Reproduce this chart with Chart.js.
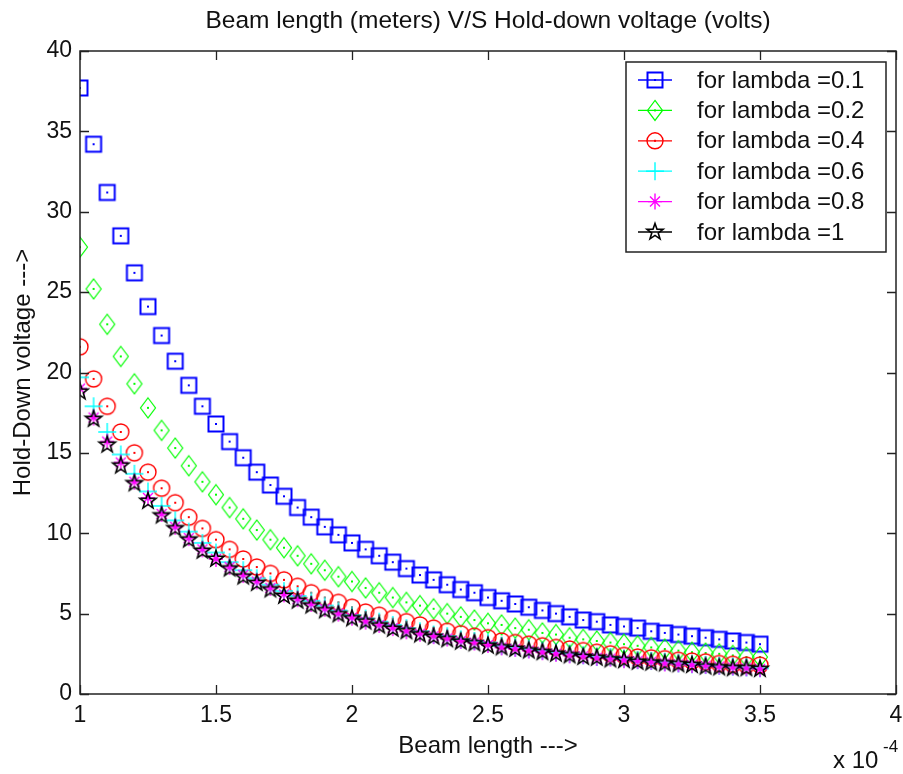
<!DOCTYPE html>
<html>
<head>
<meta charset="utf-8">
<script src="https://cdn.jsdelivr.net/npm/chart.js@4/dist/chart.umd.min.js"></script>
<style>
  html, body { margin: 0; padding: 0; background: #fff; }
  #wrap { width: 903px; height: 774px; }
</style>
</head>
<body>
<div id="wrap"><canvas id="chart" width="903" height="774"></canvas></div>
<script>
// beam length (x 10^-4 m)
const beamLength = [1.00, 1.05, 1.10, 1.15, 1.20, 1.25, 1.30, 1.35, 1.40, 1.45,
  1.50, 1.55, 1.60, 1.65, 1.70, 1.75, 1.80, 1.85, 1.90, 1.95,
  2.00, 2.05, 2.10, 2.15, 2.20, 2.25, 2.30, 2.35, 2.40, 2.45,
  2.50, 2.55, 2.60, 2.65, 2.70, 2.75, 2.80, 2.85, 2.90, 2.95,
  3.00, 3.05, 3.10, 3.15, 3.20, 3.25, 3.30, 3.35, 3.40, 3.45, 3.50];

// hold-down voltage per lambda
const lambda01 = [37.7, 34.2, 31.2, 28.5, 26.2, 24.1, 22.3, 20.7, 19.2, 17.9,
  16.8, 15.7, 14.7, 13.8, 13.0, 12.3, 11.6, 11.0, 10.4, 9.9,
  9.4, 9.0, 8.6, 8.2, 7.8, 7.4, 7.1, 6.8, 6.5, 6.3,
  6.0, 5.8, 5.6, 5.4, 5.2, 5.0, 4.8, 4.6, 4.5, 4.3,
  4.2, 4.1, 3.9, 3.8, 3.7, 3.6, 3.5, 3.4, 3.3, 3.2, 3.1];
const lambda02 = [27.8, 25.2, 23.0, 21.0, 19.3, 17.8, 16.4, 15.3, 14.2, 13.2,
  12.4, 11.6, 10.9, 10.2, 9.6, 9.1, 8.6, 8.1, 7.7, 7.3,
  7.0, 6.6, 6.3, 6.0, 5.7, 5.5, 5.3, 5.0, 4.8, 4.6,
  4.4, 4.3, 4.1, 4.0, 3.8, 3.7, 3.5, 3.4, 3.3, 3.2,
  3.1, 3.0, 2.9, 2.8, 2.7, 2.6, 2.55, 2.5, 2.4, 2.3, 2.3];
const lambda04 = [21.6, 19.6, 17.9, 16.3, 15.0, 13.8, 12.8, 11.9, 11.0, 10.3,
  9.6, 9.0, 8.4, 7.9, 7.5, 7.1, 6.7, 6.3, 6.0, 5.7,
  5.4, 5.1, 4.9, 4.7, 4.5, 4.3, 4.1, 3.9, 3.75, 3.6,
  3.5, 3.3, 3.2, 3.1, 3.0, 2.9, 2.8, 2.7, 2.6, 2.5,
  2.4, 2.3, 2.25, 2.2, 2.1, 2.05, 2.0, 1.9, 1.85, 1.8, 1.8];
const lambda06 = [19.7, 17.9, 16.3, 14.9, 13.7, 12.6, 11.7, 10.8, 10.1, 9.4,
  8.8, 8.2, 7.7, 7.2, 6.8, 6.4, 6.1, 5.8, 5.5, 5.2,
  4.9, 4.7, 4.5, 4.3, 4.1, 3.9, 3.7, 3.6, 3.4, 3.3,
  3.2, 3.0, 2.9, 2.8, 2.7, 2.6, 2.5, 2.4, 2.3, 2.3,
  2.2, 2.1, 2.05, 2.0, 1.9, 1.85, 1.8, 1.75, 1.7, 1.65, 1.6];
const lambda08 = [19.0, 17.2, 15.7, 14.4, 13.2, 12.2, 11.2, 10.4, 9.7, 9.0,
  8.4, 7.9, 7.4, 7.0, 6.6, 6.2, 5.9, 5.6, 5.3, 5.0,
  4.75, 4.5, 4.3, 4.1, 3.9, 3.75, 3.6, 3.45, 3.3, 3.2,
  3.05, 2.9, 2.8, 2.7, 2.6, 2.5, 2.4, 2.35, 2.25, 2.2,
  2.1, 2.05, 2.0, 1.9, 1.85, 1.8, 1.75, 1.7, 1.65, 1.6, 1.55];
const lambda10 = [18.8, 17.1, 15.5, 14.2, 13.1, 12.0, 11.1, 10.3, 9.6, 8.9,
  8.4, 7.8, 7.3, 6.9, 6.5, 6.1, 5.8, 5.5, 5.2, 4.95,
  4.7, 4.5, 4.25, 4.05, 3.9, 3.7, 3.55, 3.4, 3.25, 3.15,
  3.0, 2.9, 2.8, 2.7, 2.6, 2.5, 2.4, 2.3, 2.25, 2.15,
  2.1, 2.0, 1.95, 1.9, 1.85, 1.8, 1.7, 1.65, 1.6, 1.6, 1.55];

const seriesNames = ['for lambda =0.1', 'for lambda =0.2', 'for lambda =0.4',
  'for lambda =0.6', 'for lambda =0.8', 'for lambda =1'];
const seriesValues = [lambda01, lambda02, lambda04, lambda06, lambda08, lambda10];
const xTicks = [1, 1.5, 2, 2.5, 3, 3.5, 4];
const yTicks = [0, 5, 10, 15, 20, 25, 30, 35, 40];

const FONT = '"Liberation Sans", Arial, sans-serif';
const colors = ['#0000ff', '#00ff00', '#ff0000', '#00ffff', '#ff00ff', '#000000'];

// marker painters (matlab style: s, d, o, +, *, p with a centre dot)
function dot(ctx, c) { ctx.fillStyle = c; ctx.fillRect(-1, -1, 2, 2); }
const painters = [
  (ctx, c) => { ctx.lineWidth = 2; ctx.strokeRect(-7.5, -7.5, 15, 15); dot(ctx, c); },
  (ctx, c) => {
    ctx.lineWidth = 1.2; ctx.beginPath();
    ctx.moveTo(0, -10); ctx.lineTo(7.5, 0); ctx.lineTo(0, 10); ctx.lineTo(-7.5, 0); ctx.closePath();
    ctx.stroke(); dot(ctx, c);
  },
  (ctx, c) => { ctx.lineWidth = 1.4; ctx.beginPath(); ctx.arc(0, 0, 8, 0, Math.PI * 2); ctx.stroke(); dot(ctx, c); },
  (ctx, c) => {
    ctx.lineWidth = 1.4; ctx.beginPath();
    ctx.moveTo(-9, 0); ctx.lineTo(9, 0); ctx.moveTo(0, -9); ctx.lineTo(0, 9); ctx.stroke();
  },
  (ctx, c) => {
    ctx.lineWidth = 1.4; ctx.beginPath();
    ctx.moveTo(-7, 0); ctx.lineTo(7, 0); ctx.moveTo(0, -8); ctx.lineTo(0, 8);
    ctx.moveTo(-5, -5); ctx.lineTo(5, 5); ctx.moveTo(-5, 5); ctx.lineTo(5, -5);
    ctx.stroke(); dot(ctx, c);
  },
  (ctx, c) => {
    ctx.lineWidth = 1.6; ctx.beginPath();
    for (let k = 0; k < 10; k++) {
      const r = k % 2 ? 3.4 : 8.5;
      const a = -Math.PI / 2 + k * Math.PI / 5;
      const px = r * Math.cos(a), py = r * Math.sin(a);
      if (k === 0) ctx.moveTo(px, py); else ctx.lineTo(px, py);
    }
    ctx.closePath(); ctx.stroke();
  }
];

function makeMarker(i) {
  const cv = document.createElement('canvas');
  cv.width = 24; cv.height = 24;
  const ctx = cv.getContext('2d');
  ctx.translate(12, 12);
  ctx.strokeStyle = colors[i];
  painters[i](ctx, colors[i]);
  return cv;
}
const markers = colors.map((c, i) => makeMarker(i));

// box, inward ticks, titles and legend drawn like a matlab figure
const matlabFrame = {
  id: 'matlabFrame',
  afterDraw(chart) {
    const { ctx, chartArea: a, scales: { x, y } } = chart;
    ctx.save();
    ctx.strokeStyle = '#222';
    ctx.lineWidth = 1.5;
    ctx.strokeRect(a.left, a.top, a.right - a.left, a.bottom - a.top);
    ctx.lineWidth = 1.3;
    ctx.beginPath();
    xTicks.forEach(v => {
      const px = Math.round(x.getPixelForValue(v)) + 0.5;
      ctx.moveTo(px, a.bottom); ctx.lineTo(px, a.bottom - 9);
      ctx.moveTo(px, a.top); ctx.lineTo(px, a.top + 9);
    });
    yTicks.forEach(v => {
      const py = Math.round(y.getPixelForValue(v)) + 0.5;
      ctx.moveTo(a.left, py); ctx.lineTo(a.left + 9, py);
      ctx.moveTo(a.right, py); ctx.lineTo(a.right - 9, py);
    });
    ctx.stroke();

    // texts
    ctx.fillStyle = '#111';
    ctx.font = '24.5px ' + FONT;
    ctx.textAlign = 'center';
    ctx.textBaseline = 'middle';
    const cx = (a.left + a.right) / 2;
    ctx.fillText('Beam length (meters) V/S Hold-down voltage (volts)', cx, 21);
    ctx.font = '24px ' + FONT;
    ctx.fillText('Beam length --->', cx, 746);
    ctx.save();
    ctx.translate(23, (a.top + a.bottom) / 2);
    ctx.rotate(-Math.PI / 2);
    ctx.fillText('Hold-Down voltage --->', 0, 0);
    ctx.restore();
    ctx.textAlign = 'left';
    ctx.fillText('x 10', 833, 761);
    ctx.font = '17px ' + FONT;
    ctx.fillText('-4', 883, 747);

    // legend
    const lw = 260, lh = 190;
    const lx = a.right - 10 - lw, ly = a.top + 11;
    ctx.fillStyle = '#fff';
    ctx.fillRect(lx, ly, lw, lh);
    ctx.strokeStyle = '#222';
    ctx.lineWidth = 1.5;
    ctx.strokeRect(lx, ly, lw, lh);
    ctx.font = '24px ' + FONT;
    ctx.textBaseline = 'middle';
    seriesNames.forEach((name, i) => {
      const ry = ly + 18 + i * 30.4;
      ctx.strokeStyle = colors[i];
      ctx.lineWidth = 1.3;
      ctx.beginPath();
      ctx.moveTo(lx + 12, ry); ctx.lineTo(lx + 46, ry);
      ctx.stroke();
      ctx.save();
      ctx.translate(lx + 29, ry);
      ctx.strokeStyle = colors[i];
      painters[i](ctx, colors[i]);
      ctx.restore();
      ctx.fillStyle = '#111';
      ctx.fillText(name, lx + 71, ry + 1);
    });
    ctx.restore();
  }
};

const datasets = seriesValues.map((vals, i) => ({
  label: seriesNames[i],
  data: beamLength.map((bx, k) => ({ x: bx, y: vals[k] })),
  showLine: false,
  pointStyle: markers[i],
  pointRadius: 9,
  pointHoverRadius: 9,
  order: seriesValues.length - i
}));

new Chart(document.getElementById('chart').getContext('2d'), {
  type: 'scatter',
  data: { datasets },
  options: {
    responsive: false,
    animation: false,
    events: [],
    layout: { autoPadding: false, padding: { top: 51, right: 7, left: 0, bottom: 0 } },
    plugins: { legend: { display: false }, tooltip: { enabled: false } },
    scales: {
      x: {
        type: 'linear', min: 1, max: 4,
        afterFit: s => { s.height = 80; s.paddingLeft = 0; s.paddingRight = 0; },
        afterBuildTicks: s => { s.ticks = xTicks.map(v => ({ value: v })); },
        grid: { display: false, drawTicks: false, tickLength: 0 },
        border: { display: false },
        ticks: { color: '#111', padding: 8, maxRotation: 0, font: { family: FONT, size: 23 }, callback: v => String(v) }
      },
      y: {
        min: 0, max: 40,
        afterFit: s => { s.width = 80; s.paddingTop = 0; s.paddingBottom = 0; },
        afterBuildTicks: s => { s.ticks = yTicks.map(v => ({ value: v })); },
        grid: { display: false, drawTicks: false, tickLength: 0 },
        border: { display: false },
        ticks: { color: '#111', padding: 8, font: { family: FONT, size: 23 }, callback: v => String(v) }
      }
    }
  },
  plugins: [matlabFrame]
});
</script>
</body>
</html>
